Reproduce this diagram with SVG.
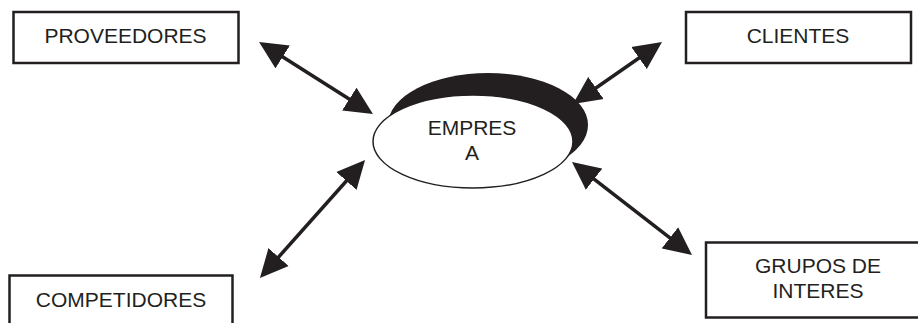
<svg xmlns="http://www.w3.org/2000/svg" width="918" height="323" viewBox="0 0 918 323">
  <style>
    .box { fill: #ffffff; stroke: #231f20; stroke-width: 2.5; }
    .lbl { font-family: "Liberation Sans", Arial, sans-serif; font-size: 21px; fill: #231f20; text-anchor: middle; }
    .link { stroke: #231f20; stroke-width: 3.5; fill: none; marker-start: url(#head); marker-end: url(#head); }
  </style>
  <defs>
    <marker id="head" viewBox="0 0 28 28" refX="18" refY="14" markerWidth="28" markerHeight="28" markerUnits="userSpaceOnUse" orient="auto-start-reverse">
      <path d="M0,0.5 L28,14 L0,27.5 z" fill="#231f20"/>
    </marker>
  </defs>
  <rect width="918" height="323" fill="#ffffff"/>

  <g id="connectors">
    <line class="link" x1="267.5" y1="47.3" x2="364.5" y2="108.7"/>
    <line class="link" x1="653.8" y1="47.7" x2="581.2" y2="98.3"/>
    <line class="link" x1="358.4" y1="167.5" x2="266.6" y2="270.5"/>
    <line class="link" x1="579.9" y1="168.1" x2="684.1" y2="248.9"/>
  </g>

  <g id="empresa">
    <ellipse cx="488" cy="125" rx="100" ry="52" fill="#231f20"/>
    <ellipse cx="473" cy="141.5" rx="100" ry="46.5" fill="#ffffff" stroke="#231f20" stroke-width="1.5"/>
    <text class="lbl" x="472" y="135">EMPRES</text>
    <text class="lbl" x="472" y="160">A</text>
  </g>

  <g id="proveedores">
    <rect class="box" x="13.5" y="12" width="225" height="51"/>
    <text class="lbl" x="125.5" y="43">PROVEEDORES</text>
  </g>

  <g id="clientes">
    <rect class="box" x="686" y="12" width="225" height="51"/>
    <text class="lbl" x="798" y="43">CLIENTES</text>
  </g>

  <g id="competidores">
    <rect class="box" x="9.5" y="275.5" width="223" height="60"/>
    <text class="lbl" x="121" y="307">COMPETIDORES</text>
  </g>

  <g id="grupos">
    <rect class="box" x="706" y="242.5" width="224" height="75"/>
    <text class="lbl" x="818" y="273">GRUPOS DE</text>
    <text class="lbl" x="818" y="298">INTERES</text>
  </g>
</svg>
